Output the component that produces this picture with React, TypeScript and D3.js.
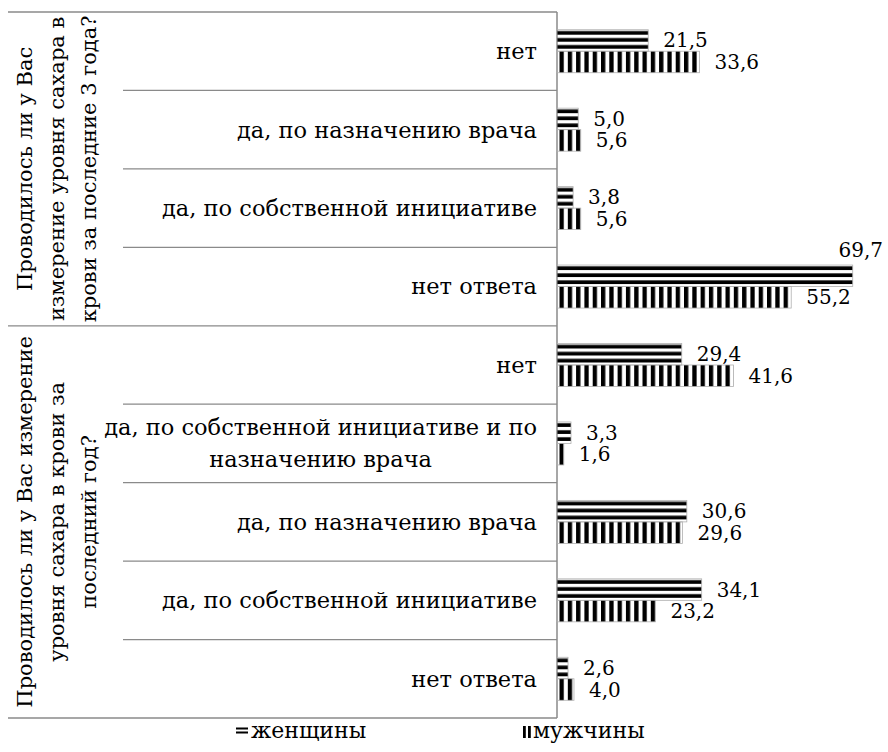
import React from "react";
import * as d3 from "d3";

const groupLines: string[][] = [
  ["Проводилось ли у Вас", "измерение уровня сахара в", "крови за последние 3 года?"],
  ["Проводилось ли у Вас измерение", "уровня сахара в крови за", "последний год?"],
];
const categoryGroup = [0, 0, 0, 0, 1, 1, 1, 1, 1];
const categories: string[][] = [
  ["нет"],
  ["да, по назначению врача"],
  ["да, по собственной инициативе"],
  ["нет ответа"],
  ["нет"],
  ["да, по собственной инициативе и по", "назначению врача"],
  ["да, по назначению врача"],
  ["да, по собственной инициативе"],
  ["нет ответа"],
];
const women = [21.5, 5.0, 3.8, 69.7, 29.4, 3.3, 30.6, 34.1, 2.6];
const men = [33.6, 5.6, 5.6, 55.2, 41.6, 1.6, 29.6, 23.2, 4.0];
const seriesNames = ["женщины", "мужчины"];

const W = 888;
const H = 752;
const FONT = "'DejaVu Serif', serif";
const fmt = (v: number) => d3.format(".1f")(v).replace(".", ",");

let ctx: CanvasRenderingContext2D | null = null;
function measure(text: string, size: number) {
  if (!ctx) ctx = document.createElement("canvas").getContext("2d");
  if (!ctx) return text.length * size * 0.6;
  ctx.font = `${size}px 'DejaVu Serif'`;
  return ctx.measureText(text).width;
}

export default function App() {
  const x0 = 557;
  const x = d3.scaleLinear().domain([0, 70]).range([x0, x0 + 297]);
  const y = d3
    .scaleBand<number>()
    .domain(d3.range(categories.length))
    .range([12, 718])
    .paddingInner(0)
    .paddingOuter(0);
  const bw = y.bandwidth();
  const barH = 21.5;
  const grid = "#8a8a8a";
  const catFs = 22.5;
  const grpFs = 21;
  const valFs = 20;
  const legFs = 22;

  const groupExtents = groupLines.map((_, g) => {
    const idx = categoryGroup
      .map((c, i) => (c === g ? i : -1))
      .filter((i) => i >= 0);
    const top = y(idx[0])!;
    const bottom = y(idx[idx.length - 1])! + bw;
    return { top, bottom };
  });

  const labelX = (v: number) => x(v) + 15;

  return (
    <svg width={W} height={H} style={{ position: "absolute", left: 0, top: 0, background: "#fff" }}>
      <defs>
        <pattern id="menPat" patternUnits="userSpaceOnUse" x={x0 + 2.5} y={0} width={8.3} height={10}>
          <rect x={0} y={0} width={4.3} height={10} fill="#000" />
        </pattern>
        {women.map((_, i) => (
          <pattern
            key={i}
            id={`wPat${i}`}
            patternUnits="userSpaceOnUse"
            x={0}
            y={y(i)! + bw / 2 - barH}
            width={10}
            height={7}
          >
            <rect x={0} y={1.3} width={10} height={3.7} fill="#000" />
          </pattern>
        ))}
        <pattern id="legW" patternUnits="userSpaceOnUse" x={0} y={727} width={10} height={4}>
          <rect x={0} y={0.5} width={10} height={2} fill="#000" />
        </pattern>
        <pattern id="legM" patternUnits="userSpaceOnUse" x={523} y={0} width={5} height={10}>
          <rect x={0} y={0} width={2.8} height={10} fill="#000" />
        </pattern>
      </defs>

      {/* separators */}
      {categories.map((_, i) => {
        const isGroupStart = i === 0 || categoryGroup[i] !== categoryGroup[i - 1];
        return (
          <line
            key={`sep${i}`}
            x1={isGroupStart ? 8 : 123}
            x2={x0}
            y1={y(i)!}
            y2={y(i)!}
            stroke={grid}
            strokeWidth={1.3}
          />
        );
      })}
      <line x1={8} x2={x0} y1={718} y2={718} stroke={grid} strokeWidth={1.3} />
      <line x1={x0} x2={x0} y1={12} y2={718} stroke={grid} strokeWidth={1.5} />

      {/* group labels */}
      {groupLines.map((lines, g) => {
        const cy = (groupExtents[g].top + groupExtents[g].bottom) / 2;
        return lines.map((ln, j) => (
          <text
            key={`g${g}-${j}`}
            transform={`translate(${32 + j * 32},${cy}) rotate(-90)`}
            textAnchor="middle"
            fontFamily={FONT}
            fontSize={grpFs}
            fill="#000"
          >
            {ln}
          </text>
        ));
      })}

      {/* category labels */}
      {categories.map((lines, i) => {
        const cy = y(i)! + bw / 2;
        const lh = 32;
        const blockW = Math.max(...lines.map((l) => measure(l, catFs)));
        const cx = 537 - blockW / 2;
        return lines.map((ln, j) => (
          <text
            key={`c${i}-${j}`}
            x={lines.length > 1 ? cx : 537}
            y={cy + (j - (lines.length - 1) / 2) * lh}
            dy="0.35em"
            textAnchor={lines.length > 1 ? "middle" : "end"}
            fontFamily={FONT}
            fontSize={catFs}
            fill="#000"
          >
            {ln}
          </text>
        ));
      })}

      {/* bars */}
      {women.map((v, i) => {
        const cy = y(i)! + bw / 2;
        return (
          <rect
            key={`w${i}`}
            x={x0}
            y={cy - barH}
            width={x(v) - x0}
            height={barH}
            fill={`url(#wPat${i})`}
            stroke="#b0b0b0"
            strokeWidth={0.8}
          />
        );
      })}
      {men.map((v, i) => {
        const cy = y(i)! + bw / 2;
        return (
          <rect
            key={`m${i}`}
            x={x0}
            y={cy}
            width={x(v) - x0}
            height={barH}
            fill="url(#menPat)"
            stroke="#b0b0b0"
            strokeWidth={0.8}
          />
        );
      })}

      {/* value labels */}
      {women.map((v, i) => {
        const cy = y(i)! + bw / 2;
        const lx = labelX(v);
        const estW = measure(fmt(v), valFs);
        const overflow = lx + estW > W - 4;
        return (
          <text
            key={`wl${i}`}
            x={overflow ? W - 5 : lx}
            y={overflow ? cy - barH - 8 : cy - barH / 2}
            dy={overflow ? 0 : "0.35em"}
            textAnchor={overflow ? "end" : "start"}
            fontFamily={FONT}
            fontSize={valFs}
            fill="#000"
          >
            {fmt(v)}
          </text>
        );
      })}
      {men.map((v, i) => {
        const cy = y(i)! + bw / 2;
        const lx = labelX(v);
        return (
          <text
            key={`ml${i}`}
            x={lx}
            y={cy + barH / 2}
            dy="0.35em"
            fontFamily={FONT}
            fontSize={valFs}
            fill="#000"
          >
            {fmt(v)}
          </text>
        );
      })}

      {/* legend */}
      <rect x={236} y={727} width={12} height={7} fill="url(#legW)" />
      <text x={251} y={738} fontFamily={FONT} fontSize={legFs} fill="#000">
        {seriesNames[0]}
      </text>
      <rect x={523} y={726} width={8} height={12} fill="url(#legM)" />
      <text x={533} y={738} fontFamily={FONT} fontSize={legFs} fill="#000">
        {seriesNames[1]}
      </text>
    </svg>
  );
}
